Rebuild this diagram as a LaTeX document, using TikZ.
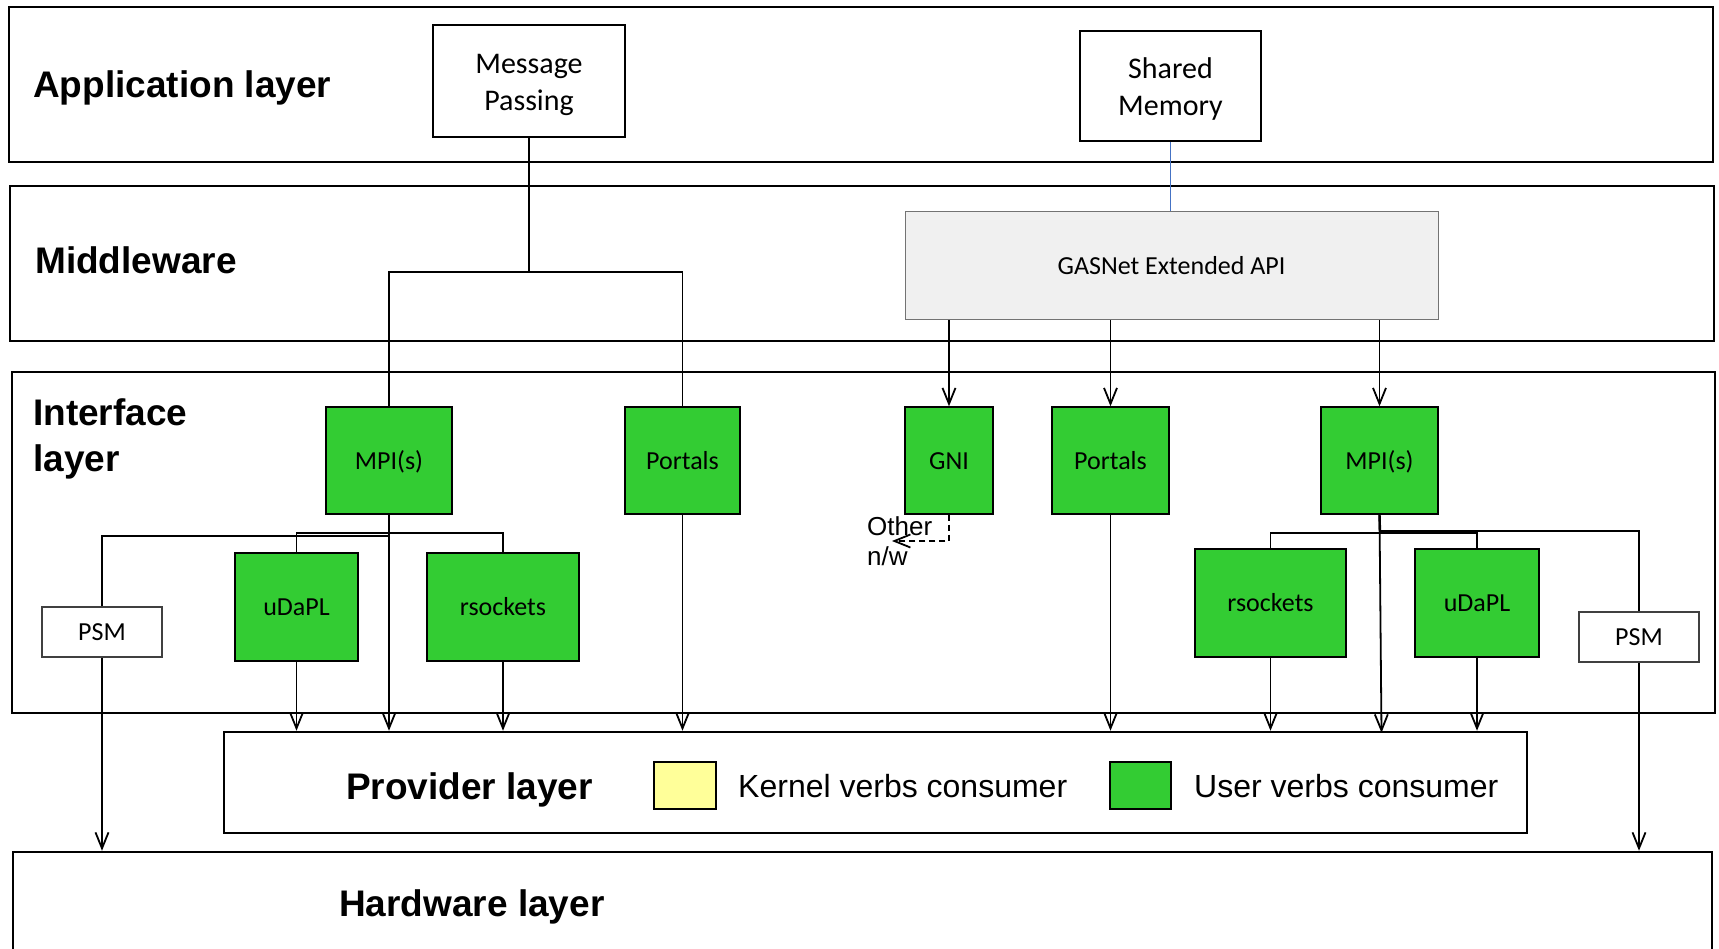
\documentclass[tikz,border=0pt]{standalone}
\usepackage{fontspec}
\setmainfont{Liberation Sans}
\newfontfamily\calib{Carlito}
\usetikzlibrary{arrows.meta}
\definecolor{vgreen}{HTML}{33CC33}
\definecolor{vyellow}{HTML}{FFFF99}
\definecolor{gasgray}{HTML}{F0F0F0}
\definecolor{lnblue}{HTML}{4472C4}
\begin{document}
\begin{tikzpicture}[x=1pt,y=-1pt,
  layer/.style={draw, line width=2.5pt, inner sep=0pt},
  layerlabel/.style={font=\fontsize{37}{45}\selectfont\bfseries, inner sep=0pt, anchor=base west},
  appbox/.style={draw, line width=2pt, fill=white, font=\calib\fontsize{30}{37}\selectfont, inner sep=0pt},
  gbox/.style={draw, line width=1.4pt, fill=vgreen, font=\calib\fontsize{26}{31}\selectfont, inner sep=0pt, minimum height=107pt, text height=20pt, text depth=3pt},
  wbox/.style={draw, line width=1.4pt, draw=black!75, fill=white, font=\calib\fontsize{26}{31}\selectfont, inner sep=0pt, minimum width=120pt, minimum height=50pt, text height=20pt, text depth=3pt},
  conn/.style={line width=1.8pt},
  arr/.style={line width=1.8pt, -{Straight Barb[length=16pt,width=13pt]}},
  legtext/.style={font=\fontsize{32}{38}\selectfont, inner sep=0pt, anchor=base west}
]
\useasboundingbox (0,0) rectangle (1719,949);
\clip (0,0) rectangle (1719,949);

% layers
\node[layer, minimum width=1704pt, minimum height=155pt] (app) at (861,84.5) {};
\node[layer, minimum width=1704pt, minimum height=155pt] (mid) at (862,263.5) {};
\node[layer, minimum width=1703pt, minimum height=341pt] (intf) at (863.5,542.5) {};
\node[layer, minimum width=1303pt, minimum height=101pt] (prov) at (875.5,782.5) {};
\node[layer, minimum width=1699pt, minimum height=160pt] (hw) at (862.5,932) {};

% layer labels
\node[layerlabel] (applbl) at (33,97.5) {Application layer};
\node[layerlabel] (midlbl) at (35,274) {Middleware};
\node[layerlabel] (intflbl) at (33,426) {Interface};
\node[layerlabel] (intflblb) at (33,471) {layer};
\node[layerlabel] (provlbl) at (346,799) {Provider layer};
\node[layerlabel] (hwlbl) at (339,916.5) {Hardware layer};

% legend
\node[draw, line width=1.4pt, fill=vyellow, minimum width=62pt, minimum height=47pt, inner sep=0pt] (legy) at (685,785.5) {};
\node[legtext] (legytxt) at (738,797.5) {Kernel verbs consumer};
\node[draw, line width=1.4pt, fill=vgreen, minimum width=61pt, minimum height=47pt, inner sep=0pt] (legg) at (1140.5,785.5) {};
\node[legtext] (leggtxt) at (1194,797.5) {User verbs consumer};

% application boxes
\node[appbox, minimum width=192pt, minimum height=112pt] (mp) at (529,81) {\raisebox{-4pt}[\height][\depth]{\begin{tabular}{@{}c@{}}Message\\Passing\end{tabular}}};
\node[appbox, minimum width=181pt, minimum height=110pt] (shm) at (1170.5,86) {\raisebox{-3.5pt}[\height][\depth]{\begin{tabular}{@{}c@{}}Shared\\Memory\end{tabular}}};

% middleware
\node[draw=black!55, line width=1pt, fill=gasgray, minimum width=533pt, minimum height=108pt, inner sep=0pt, font=\calib\fontsize{26}{31}\selectfont, text height=20pt, text depth=3pt] (gas) at (1171.5,266) {GASNet Extended API};

% interface boxes
\node[gbox, minimum width=126pt] (mpi1) at (389,460.5) {MPI(s)};
\node[gbox, minimum width=115pt] (por1) at (682.5,460.5) {Portals};
\node[gbox, minimum width=88pt] (gni) at (949,460.5) {GNI};
\node[gbox, minimum width=117pt] (por2) at (1110.5,460.5) {Portals};
\node[gbox, minimum width=117pt] (mpi2) at (1379.5,460.5) {MPI(s)};
\node[wbox] (psm1) at (102,632) {PSM};
\node[gbox, minimum width=123pt, minimum height=108pt] (ud1) at (296.5,607) {uDaPL};
\node[gbox, minimum width=152pt, minimum height=108pt] (rs1) at (503,607) {rsockets};
\node[gbox, minimum width=151pt, minimum height=108pt] (rs2) at (1270.5,603) {rsockets};
\node[gbox, minimum width=124pt, minimum height=108pt] (ud2) at (1477,603) {uDaPL};
\node[wbox] (psm2) at (1639,637) {PSM};

% other n/w label
\node[font=\fontsize{26}{30}\selectfont, align=left, inner sep=0pt, anchor=west] (other) at (867,541) {Other\\n/w};

% coordinates
\coordinate (mpsplit) at (529,272);
\coordinate (s1a) at (389,533);
\coordinate (s1b) at (389,536);
\coordinate (s2a) at (1380,533);
\coordinate (s2b) at (1380,531);
\coordinate (othertip) at (892,541);

% connectors: application -> middleware/interface
\draw[conn] (mp.south) -- (mpsplit);
\draw[conn] (mpi1.north) -- (mpi1.north |- mpsplit) -- (por1.north |- mpsplit) -- (por1.north);
\draw[line width=1.8pt, lnblue] (shm.south) -- (shm.south |- gas.north);

% GASNet -> interface
\draw[arr] (gas.south -| gni.north) -- (gni.north);
\draw[arr] (gas.south -| por2.north) -- (por2.north);
\draw[arr] (gas.south -| mpi2.north) -- (mpi2.north);

% left MPI split
\draw[line width=2.4pt] (mpi1.south) -- (s1b);
\draw[conn] (ud1.north) |- (s1a) -| (rs1.north);
\draw[conn] (psm1.north) |- (s1b);

% right MPI split
\draw[line width=2.4pt] (mpi2.south) -- (s2a);
\draw[conn] (rs2.north) |- (s2a) -| (ud2.north);
\draw[conn] (s2b) -| (psm2.north);

% GNI dashed
\draw[arr, dash pattern=on 6pt off 4pt] (gni.south) |- (othertip);

% down to provider
\draw[arr] (ud1.south) -- (ud1.south |- prov.north);
\draw[arr] (mpi1.south) -- (mpi1.south |- prov.north);
\draw[arr] (rs1.south) -- (rs1.south |- prov.north);
\draw[arr] (por1.south) -- (por1.south |- prov.north);
\draw[arr] (por2.south) -- (por2.south |- prov.north);
\draw[arr] (rs2.south) -- (rs2.south |- prov.north);
\draw[arr] (mpi2.south) -- ([xshift=2pt,yshift=-2pt]mpi2.south |- prov.north);
\draw[arr] (ud2.south) -- (ud2.south |- prov.north);

% PSM down to hardware
\draw[arr] (psm1.south) -- (psm1.south |- hw.north);
\draw[arr] (psm2.south) -- (psm2.south |- hw.north);
\end{tikzpicture}
\end{document}
